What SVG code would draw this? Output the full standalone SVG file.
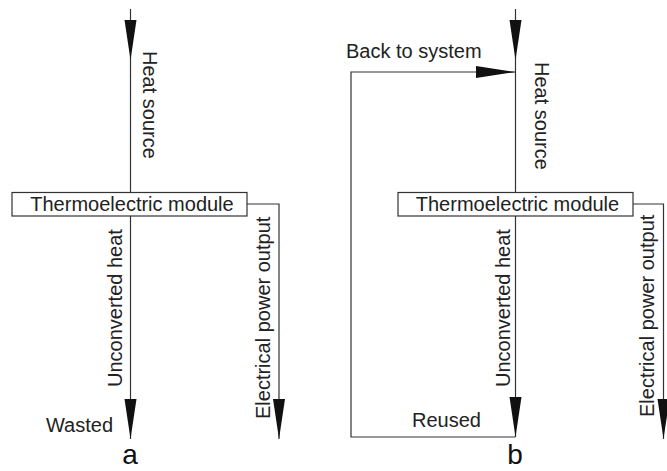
<svg xmlns="http://www.w3.org/2000/svg" width="667" height="471" viewBox="0 0 667 471">
<style>
  .ln { fill: none; stroke: #333; stroke-width: 1.2; }
  .box { fill: #fff; stroke: #333; stroke-width: 1.2; }
  .t { font-family: "Liberation Sans", Arial, sans-serif; font-size: 20px; fill: #222; }
  .big { font-family: "Liberation Sans", Arial, sans-serif; font-size: 28px; fill: #111; text-anchor: middle; }
</style>
<defs>
  <marker id="arr" markerUnits="userSpaceOnUse" markerWidth="41" markerHeight="13" refX="40" refY="6" orient="auto">
    <path d="M0,0 L40,6 L0,12 z" fill="#111"/>
  </marker>
</defs>
<rect width="667" height="471" fill="#fff"/>
<g id="connectors">
  <path class="ln" d="M130.5,9 V60" marker-end="url(#arr)"/>
  <path class="ln" d="M130.5,60 V192"/>
  <path class="ln" d="M130.5,216 V439" marker-end="url(#arr)"/>
  <path class="ln" d="M247,204 H279 V439" marker-end="url(#arr)"/>
  <path class="ln" d="M515.5,9 V60" marker-end="url(#arr)"/>
  <path class="ln" d="M515.5,60 V192"/>
  <path class="ln" d="M515.5,216 V437" marker-end="url(#arr)"/>
  <path class="ln" d="M515.5,437 H351 V72 H515.5" marker-end="url(#arr)"/>
  <path class="ln" d="M633,204 H663.5 V439" marker-end="url(#arr)"/>
</g>
<g id="module-a">
  <rect class="box" x="12" y="192.5" width="235" height="23.5"/>
  <text class="t" x="132" y="210.5" text-anchor="middle">Thermoelectric module</text>
</g>
<g id="module-b">
  <rect class="box" x="398" y="192.5" width="235" height="23.5"/>
  <text class="t" x="517.5" y="210.5" text-anchor="middle">Thermoelectric module</text>
</g>
<g id="labels-a">
  <text class="t" transform="translate(142.5,51) rotate(90)">Heat source</text>
  <text class="t" transform="translate(122,387) rotate(-90)">Unconverted heat</text>
  <text class="t" transform="translate(269.5,419) rotate(-90)">Electrical power output</text>
  <text class="t" x="113" y="432" text-anchor="end">Wasted</text>
  <text class="big" x="130" y="464">a</text>
</g>
<g id="labels-b">
  <text class="t" x="346" y="58">Back to system</text>
  <text class="t" transform="translate(534.5,62) rotate(90)">Heat source</text>
  <text class="t" transform="translate(510,387) rotate(-90)">Unconverted heat</text>
  <text class="t" transform="translate(654,417) rotate(-90)">Electrical power output</text>
  <text class="t" x="412" y="427">Reused</text>
  <text class="big" x="515" y="464">b</text>
</g>
</svg>
